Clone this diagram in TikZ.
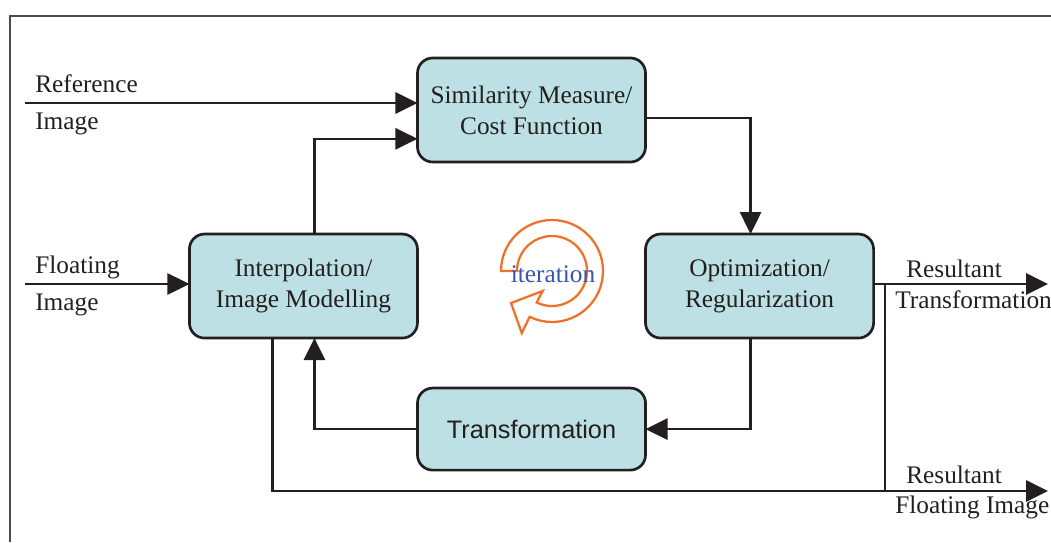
\documentclass[tikz,border=0pt]{standalone}
\usepackage{fontspec}
\setmainfont{Liberation Serif}
\newfontfamily\arialfont{Liberation Sans}
\usetikzlibrary{positioning,arrows.meta,calc}
\definecolor{boxfill}{RGB}{188,224,228}
\definecolor{inkdark}{RGB}{35,31,32}
\definecolor{loopor}{RGB}{240,112,40}
\definecolor{loopblue}{RGB}{55,85,175}

\begin{document}
\begin{tikzpicture}[
    x=0.025cm, y=0.025cm,
    box/.style={draw=inkdark, line width=1.9pt, rounded corners=0.38cm, fill=boxfill, align=center, outer sep=0pt,
        minimum width=5.7cm, minimum height=2.6cm, font=\fontsize{18}{22}\selectfont, text=inkdark},
    arrow/.style={-{Triangle[length=0.55cm,width=0.53cm]}, line width=1.6pt, draw=inkdark},
    wire/.style={line width=1.6pt, draw=inkdark},
    lbl/.style={font=\fontsize{18}{22}\selectfont, text=inkdark, inner sep=0pt, anchor=base west},
]
\useasboundingbox (0,0) rectangle (1051,542);
\draw[line width=1pt, gray!60!black] (10,0) -- (10,526) -- (1051,526);

\node[box] (sim) at (531.5,432) {Similarity Measure/\\Cost Function};
\node[box, below left=1.8cm and 0cm of sim] (interp) {Interpolation/\\Image Modelling};
\node[box, below right=1.8cm and 0cm of sim] (optim) {Optimization/\\Regularization};
\node[box, below=5.65cm of sim, minimum height=2.05cm, font=\arialfont\fontsize{18}{22}\selectfont] (trans) {Transformation};

\coordinate (refin) at (25,439);
\coordinate (flin) at (25,258);
\coordinate (tout) at (1048,258);
\coordinate (fout) at (1048,51);
\coordinate (split) at (885,258);

% main loop
\draw[arrow] (refin) -- (refin -| sim.west);
\draw[arrow] ([xshift=0.275cm]interp.north) |- ([yshift=-0.72cm]sim.west);
\draw[arrow] ([yshift=-0.2cm]sim.east) -| ([xshift=-0.225cm]optim.north);
\draw[arrow] ([xshift=-0.225cm]optim.south) |- (trans.east);
\draw[arrow] (trans.west) -| ([xshift=0.275cm]interp.south);
\draw[arrow] (flin) -- (flin -| interp.west);
% outputs
\draw[arrow] (tout -| optim.east) -- (tout);
\draw[arrow] ([xshift=-0.775cm]interp.south) |- (fout);
\draw[wire] (split) -- (split |- fout);

\node[lbl] (reflbl) at (35,450) {Reference};
\node[lbl] (refimg) at (35,413) {Image};
\node[lbl] (fllbl) at (35,269) {Floating};
\node[lbl] (flimg) at (35,232) {Image};
\node[lbl] (restr) at (906,265) {Resultant};
\node[lbl] (trlbl) at (895,234) {Transformation};
\node[lbl] (resfl) at (906,59) {Resultant};
\node[lbl] (flout) at (895,29) {Floating Image};

% iteration symbol
\coordinate (loopc) at (552,271);
\draw[loopor, line width=1.6pt, fill=white, line join=miter]
    ($(loopc)+(180:51)$) arc[start angle=180, end angle=-116, radius=51]
    -- ($(loopc)+(-116:69)$) -- ($(loopc)+(-142:52)$) -- ($(loopc)+(-115:22)$)
    -- ($(loopc)+(-116:35)$) arc[start angle=-116, end angle=180, radius=35] -- cycle;
\node[text=loopblue, font=\fontsize{18}{22}\selectfont, anchor=base] (iter) at (553,260) {iteration};
\end{tikzpicture}
\end{document}
